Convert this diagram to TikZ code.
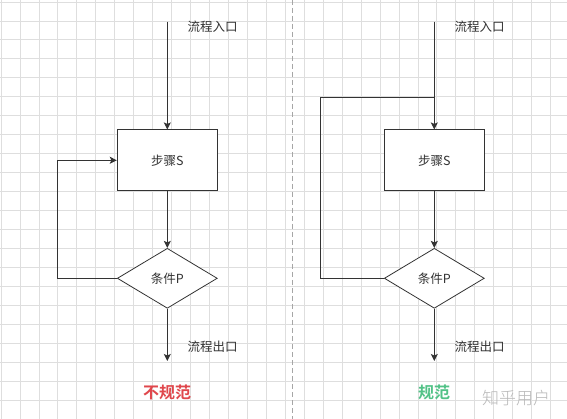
\documentclass[tikz,border=0pt]{standalone}
\usepackage{fontspec}
\newfontfamily\cjk{Noto Sans CJK SC}
\newfontfamily\cjkb{Noto Sans CJK SC Bold}
\newfontfamily\cjkl{Noto Sans CJK SC Light}
\usetikzlibrary{shapes.geometric,arrows.meta}
\definecolor{ln}{HTML}{333333}
\definecolor{gridc}{HTML}{DEDEDE}
\definecolor{badred}{HTML}{E0474C}
\definecolor{goodgreen}{HTML}{52C287}
\tikzset{
  flow/.style={draw=ln,line width=1pt},
  arr/.style={flow,-{Stealth[length=7pt,width=7pt,inset=1.5pt]}},
  stepbox/.style={draw=ln,line width=1pt,fill=white,minimum width=100pt,minimum height=60.7pt,inner sep=0pt,font=\cjk\fontsize{12.5}{14}\selectfont,text=ln},
  cond/.style={draw=ln,line width=0.8pt,fill=white,shape=diamond,aspect=1.667,minimum width=100pt,minimum height=60pt,inner sep=0pt,font=\cjk\fontsize{12.5}{14}\selectfont,text=ln},
  lab/.style={anchor=west,inner sep=0pt,font=\cjk\fontsize{12.5}{14}\selectfont,text=ln},
  verdict/.style={inner sep=0pt,font=\cjkb\fontsize{16}{18}\selectfont}
}
\begin{document}
\begin{tikzpicture}[x=1pt,y=-1pt]
\useasboundingbox (0,0) rectangle (567,419);
\fill[white] (0,0) rectangle (567,419);
% grid
\foreach \i in {0,...,29} { \draw[gridc,line width=0.8pt] ({1+18.95*\i},0) -- ({1+18.95*\i},419); }
\foreach \j in {0,...,22} { \draw[gridc,line width=0.8pt] (0,{2+18.95*\j}) -- (567,{2+18.95*\j}); }
% separator
\draw[gray!70,line width=0.8pt,dash pattern=on 5pt off 3pt] (292.7,0) -- (292.7,419);

% left flow
\coordinate (s1) at (167.3,21.7);
\node[stepbox] (S1) at (167.3,160.3) {步骤S};
\node[cond] (P1) at (167.3,278.3) {条件P};
\coordinate (e1) at (167.3,361);
\coordinate (c1) at (57.3,278.3);
\draw[arr] (s1) -- (S1.north);
\draw[arr] (S1.south) -- (P1.north);
\draw[arr] (P1.south) -- (e1);
\draw[arr] (P1.west) -- (c1) |- (S1.west);
\node[lab] (in1) at (187.5,27) {流程入口};
\node[lab] (out1) at (187.5,347) {流程出口};
\node[verdict,text=badred] (v1) at (167,392) {不规范};

% right flow
\coordinate (s2) at (434.3,21.7);
\node[stepbox] (S2) at (434.3,160.3) {步骤S};
\node[cond] (P2) at (434.3,278.3) {条件P};
\coordinate (e2) at (434.3,361);
\coordinate (c2) at (320.3,278.3);
\coordinate (j2) at (434.3,97.3);
\draw[arr] (s2) -- (S2.north);
\draw[arr] (S2.south) -- (P2.north);
\draw[arr] (P2.south) -- (e2);
\draw[flow] (P2.west) -- (c2) |- (j2);
\node[lab] (in2) at (454.5,27) {流程入口};
\node[lab] (out2) at (454.5,347) {流程出口};
\node[verdict,text=goodgreen] (v2) at (434,392) {规范};
\node[inner sep=0pt,font=\cjkl\fontsize{17}{19}\selectfont,text=black!28] (wm) at (516,398) {知乎用户};
\end{tikzpicture}
\end{document}
